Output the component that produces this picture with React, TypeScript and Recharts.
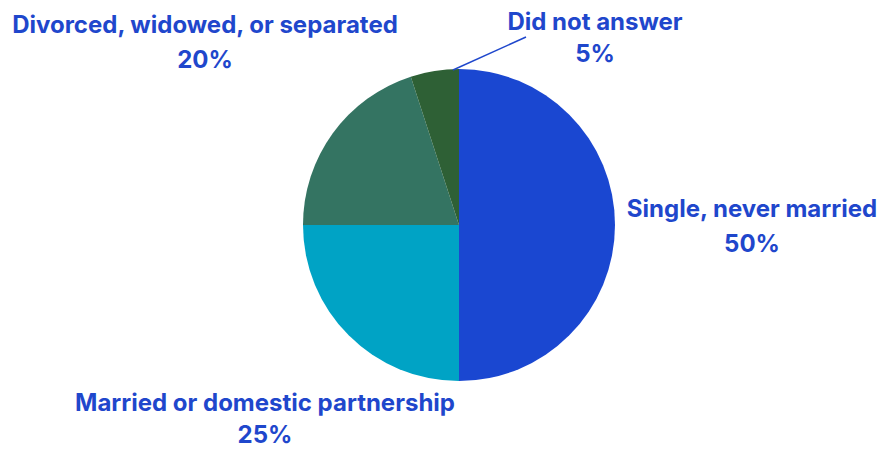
import { PieChart, Pie, Cell } from "recharts"

const categories = [
  "Single, never married",
  "Married or domestic partnership",
  "Divorced, widowed, or separated",
  "Did not answer",
]
const shares = [50, 25, 20, 5]
const colors = ["#1a47d1", "#00a3c5", "#347462", "#2e6035"]

const data = categories.map((name, i) => ({ name, value: shares[i] }))

// label placement relative to pie centre: x of text centre, baseline of each line
const labelLayout = [
  { dx: 293, y1: -8, y2: 27 },
  { dx: -194, y1: 186, y2: 218 },
  { dx: -254, y1: -192, y2: -157 },
  { dx: 136, y1: -195, y2: -163 },
]

const TEXT = "#1f47cc"

function renderLabel(props: any) {
  const { cx, cy, index, outerRadius } = props
  const l = labelLayout[index]
  const x = cx + l.dx
  return (
    <g key={`lbl-${index}`}>
      {index === 3 && (
        <line
          x1={cx - 6}
          y1={cy - outerRadius + 1}
          x2={cx + 67}
          y2={cy - 188}
          stroke={TEXT}
          strokeWidth={1.5}
        />
      )}
      <text
        x={x}
        y={cy + l.y1}
        textAnchor="middle"
        fill={TEXT}
        fontFamily="Inter, sans-serif"
        fontWeight={700}
        fontSize={24}
      >
        {categories[index]}
      </text>
      <text
        x={x}
        y={cy + l.y2}
        textAnchor="middle"
        fill={TEXT}
        fontFamily="Inter, sans-serif"
        fontWeight={700}
        fontSize={24}
      >
        {`${shares[index]}%`}
      </text>
    </g>
  )
}

export default function App() {
  return (
    <div style={{ position: "absolute", left: 0, top: 0, width: 881, height: 449, background: "#fff" }}>
      <PieChart width={881} height={449} margin={{ top: 0, right: 0, bottom: 0, left: 0 }}>
        <Pie
          data={data}
          dataKey="value"
          nameKey="name"
          cx={459}
          cy={225}
          outerRadius={156}
          startAngle={90}
          endAngle={-270}
          stroke="none"
          label={renderLabel}
          labelLine={false}
          isAnimationActive={false}
        >
          {data.map((d, i) => (
            <Cell key={d.name} fill={colors[i]} />
          ))}
        </Pie>
      </PieChart>
    </div>
  )
}
